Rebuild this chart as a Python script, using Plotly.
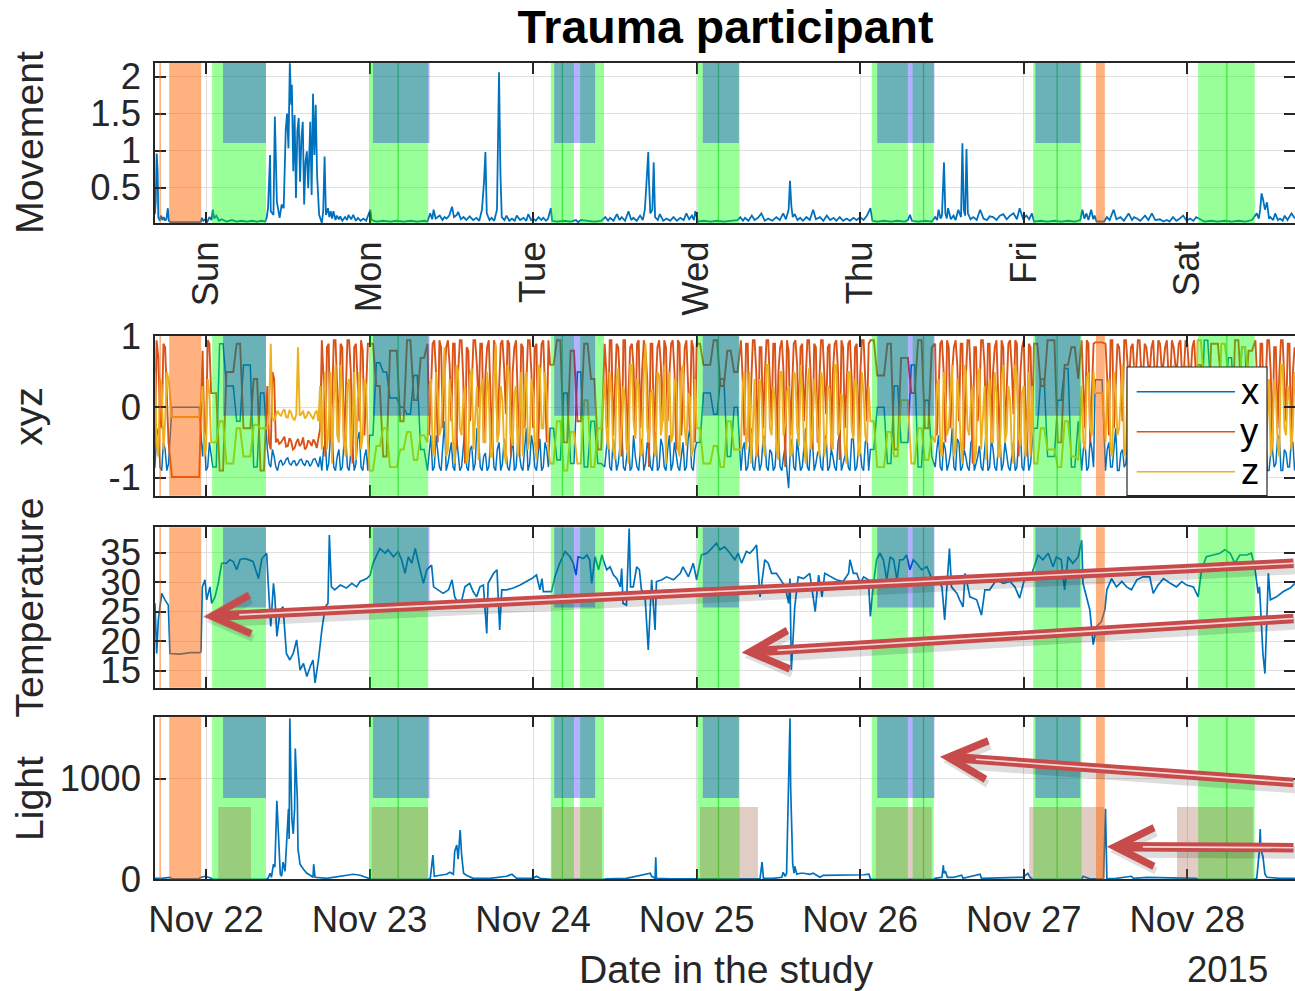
import pandas as pd
import plotly.graph_objects as go

START = pd.Timestamp("2015-11-21 16:00")


def at(h):
    return START + pd.Timedelta(hours=h)


# ---------------- data (hours since 2015-11-21 16:00) ----------------
movement = [
    (0.5, 0.14), (0.62, 0.3), (0.76, 0.96), (0.9, 0.72), (1.0, 0.1), (1.2, 0.05), (1.4, 0.12), (1.6, 0.06),
    (1.8, 0.1), (2.0, 0.05), (2.2, 0.08), (2.4, 0.22), (2.55, 0.05),
    (2.8, 0.03), (5.0, 0.03), (7.2, 0.03), (7.4, 0.09), (7.6, 0.05), (7.9, 0.07), (8.2, 0.04), (8.5, 0.1), (8.8, 0.06),
    (9.0, 0.2), (9.2, 0.08), (9.5, 0.12), (9.9, 0.05), (10.3, 0.07), (11.0, 0.04), (11.8, 0.06), (12.5, 0.04),
    (13.2, 0.05), (14.0, 0.04), (14.8, 0.05), (15.5, 0.04), (16.2, 0.05), (16.7, 0.04),
    (16.9, 0.09), (17.1, 0.22), (17.4, 0.94), (17.5, 0.18), (17.9, 0.13), (18.1, 1.46), (18.4, 0.31), (18.8, 0.09),
    (19.1, 0.27), (19.4, 0.22), (19.7, 1.28), (19.9, 1.5), (20.1, 1.03), (20.3, 2.18), (20.5, 1.62), (20.6, 1.89),
    (20.8, 0.72), (21.0, 1.48), (21.2, 0.36), (21.4, 1.26), (21.6, 1.44), (21.8, 0.58), (22.0, 1.17), (22.2, 1.39),
    (22.4, 0.27), (22.6, 0.85), (22.8, 0.99), (23.0, 0.49), (23.3, 1.39), (23.5, 0.4), (23.7, 1.77), (23.9, 0.94),
    (24.1, 1.62), (24.3, 0.67), (24.6, 0.13), (25.0, 0.02), (25.2, 0.18), (25.4, 0.92), (25.6, 0.13), (25.9, 0.22),
    (26.1, 0.1), (26.3, 0.18), (26.5, 0.08), (26.7, 0.18), (27.0, 0.06), (27.2, 0.12), (27.5, 0.07), (27.7, 0.11),
    (28.0, 0.05), (28.4, 0.1), (28.7, 0.06), (28.9, 0.13), (29.3, 0.07), (29.6, 0.13), (30.0, 0.05), (30.3, 0.09),
    (30.7, 0.05), (31.1, 0.08), (31.5, 0.05), (31.8, 0.13),
    (32.1, 0.2), (32.3, 0.06), (33.0, 0.04), (34.0, 0.05), (35.0, 0.04), (36.0, 0.05), (37.0, 0.04), (38.0, 0.05),
    (39.0, 0.04), (40.0, 0.05), (40.5, 0.04),
    (40.9, 0.15), (41.2, 0.07), (41.4, 0.2), (41.7, 0.08), (42.0, 0.1), (42.3, 0.12), (42.7, 0.06), (43.0, 0.1),
    (43.3, 0.08), (43.7, 0.12), (44.1, 0.24), (44.4, 0.1), (44.8, 0.13), (45.0, 0.17), (45.4, 0.07), (45.8, 0.1),
    (46.2, 0.06), (46.7, 0.11), (47.2, 0.06), (47.7, 0.09), (48.1, 0.05), (48.5, 0.2), (48.8, 0.58), (49.0, 0.98),
    (49.2, 0.15), (49.6, 0.06), (49.9, 0.09), (50.3, 0.05), (50.7, 0.2), (51.0, 2.06), (51.2, 0.71), (51.4, 0.1),
    (51.8, 0.06), (52.1, 0.12), (52.5, 0.05), (52.9, 0.08), (53.3, 0.05), (53.6, 0.12), (54.1, 0.06), (54.6, 0.09),
    (55.0, 0.05), (55.3, 0.14), (55.7, 0.06), (56.0, 0.08), (56.4, 0.05), (56.8, 0.1), (57.2, 0.06), (57.5, 0.09),
    (57.9, 0.05), (58.2, 0.08), (58.6, 0.22),
    (58.8, 0.05), (59.5, 0.04), (60.5, 0.05), (61.5, 0.04), (62.3, 0.06), (62.6, 0.03), (63.0, 0.06), (64.0, 0.05),
    (65.0, 0.04), (66.0, 0.05),
    (66.6, 0.1), (67.0, 0.05), (67.3, 0.09), (67.8, 0.05), (68.3, 0.14), (68.7, 0.06), (69.0, 0.1), (69.5, 0.05),
    (70.0, 0.18), (70.4, 0.06), (70.7, 0.09), (71.2, 0.05), (71.7, 0.12), (72.1, 0.06), (72.4, 0.2), (72.6, 0.5),
    (72.8, 0.85), (72.9, 0.98), (73.0, 0.6), (73.2, 0.15), (73.5, 0.2), (73.7, 0.84), (73.9, 0.1), (74.3, 0.06),
    (74.6, 0.14), (75.1, 0.05), (75.6, 0.08), (76.1, 0.05), (76.6, 0.1), (77.1, 0.05), (77.6, 0.09), (78.1, 0.06),
    (78.5, 0.15), (78.9, 0.07), (79.3, 0.12), (79.6, 0.06), (79.8, 0.18),
    (80.2, 0.04), (81.0, 0.05), (82.0, 0.04), (83.0, 0.05), (84.0, 0.04), (85.0, 0.05), (86.0, 0.06),
    (86.4, 0.1), (86.8, 0.05), (87.1, 0.09), (87.6, 0.05), (88.1, 0.12), (88.5, 0.06), (89.0, 0.09), (89.5, 0.15),
    (90.0, 0.05), (90.5, 0.08), (91.1, 0.05), (91.7, 0.1), (92.2, 0.06), (92.7, 0.15), (93.1, 0.07), (93.5, 0.2),
    (93.7, 0.59), (93.9, 0.25), (94.1, 0.1), (94.4, 0.14), (94.8, 0.06), (95.2, 0.09), (95.6, 0.05), (96.1, 0.1),
    (96.6, 0.06), (97.1, 0.2), (97.5, 0.07), (98.1, 0.1), (98.6, 0.05), (99.1, 0.12), (99.6, 0.06), (100.1, 0.09),
    (100.5, 0.05), (101.0, 0.1), (101.5, 0.05), (102.0, 0.08), (102.5, 0.05), (103.0, 0.09), (103.5, 0.06),
    (104.0, 0.1), (104.5, 0.06), (105.0, 0.12), (105.5, 0.22),
    (105.8, 0.05), (106.5, 0.04), (107.5, 0.05), (108.5, 0.04), (109.5, 0.05), (110.5, 0.04), (111.0, 0.06),
    (111.3, 0.13), (111.6, 0.05), (112.5, 0.04), (113.5, 0.05), (114.5, 0.04),
    (115.0, 0.1), (115.3, 0.06), (115.5, 0.2), (115.8, 0.08), (116.0, 0.12), (116.3, 0.84), (116.5, 0.15),
    (116.7, 0.08), (116.9, 0.22), (117.3, 0.07), (117.7, 0.12), (118.0, 0.06), (118.4, 0.2), (118.8, 0.1),
    (119.0, 1.1), (119.2, 0.2), (119.4, 0.12), (119.6, 1.02), (119.8, 0.15), (120.2, 0.07), (120.6, 0.1),
    (121.1, 0.06), (121.6, 0.2), (122.1, 0.08), (122.6, 0.06), (123.0, 0.11), (123.5, 0.1), (124.0, 0.06),
    (124.5, 0.12), (125.0, 0.14), (125.5, 0.07), (126.0, 0.12), (126.5, 0.15), (127.0, 0.07), (127.4, 0.22),
    (127.9, 0.08), (128.4, 0.12), (128.8, 0.07), (129.2, 0.15),
    (129.5, 0.04), (130.5, 0.05), (131.5, 0.04), (132.5, 0.05), (133.5, 0.04), (134.5, 0.05), (135.5, 0.04),
    (136.3, 0.06),
    (136.6, 0.2), (136.9, 0.08), (137.2, 0.15), (137.5, 0.06), (137.9, 0.2), (138.2, 0.07), (138.4, 0.12),
    (138.7, 0.04), (139.8, 0.04),
    (140.2, 0.1), (140.6, 0.06), (140.9, 0.12), (141.2, 0.2), (141.6, 0.07), (142.2, 0.1), (142.7, 0.05),
    (143.0, 0.09), (143.4, 0.15), (143.9, 0.06), (144.2, 0.1), (144.6, 0.08), (145.1, 0.05), (145.8, 0.12),
    (146.3, 0.06), (146.8, 0.15), (147.3, 0.06), (148.0, 0.07), (148.5, 0.04), (149.0, 0.06), (149.4, 0.04),
    (149.9, 0.1), (150.4, 0.05), (150.9, 0.08), (151.4, 0.12), (151.9, 0.05), (152.4, 0.08), (152.9, 0.05),
    (153.3, 0.1),
    (153.7, 0.08), (154.5, 0.04), (155.5, 0.05), (156.5, 0.04), (157.5, 0.05), (158.5, 0.04), (159.5, 0.05),
    (160.5, 0.04), (161.5, 0.06),
    (162.2, 0.15), (162.5, 0.08), (162.7, 0.2), (162.9, 0.42), (163.1, 0.35), (163.4, 0.2), (163.7, 0.3),
    (164.0, 0.08), (164.2, 0.1), (164.6, 0.06), (164.9, 0.15), (165.3, 0.06), (165.6, 0.08), (166.0, 0.05),
    (166.3, 0.12), (166.7, 0.06), (167.0, 0.1), (167.3, 0.15), (167.8, 0.08),
]

temperature = [
    (0.51, 26.4), (0.76, 17.9), (1.0, 23.6), (1.5, 28.1), (1.98, 27.0), (2.47, 26.1), (2.71, 17.9), (4.18, 17.8),
    (5.65, 18.05), (7.12, 18.05), (7.26, 18.2), (7.46, 29.2), (7.85, 30.4), (8.1, 27.0), (8.58, 29.2), (8.83, 26.4),
    (9.32, 27.5), (9.8, 29.8), (10.3, 33.2), (11.0, 33.2), (11.5, 33.8), (12.0, 33.5), (12.5, 32.1), (13.0, 33.8),
    (13.5, 34.0), (14.0, 33.9), (14.9, 33.5), (15.7, 30.6), (16.2, 34.0), (16.7, 34.6), (16.9, 34.9), (17.1, 30.4),
    (17.5, 22.5), (17.9, 29.8), (18.1, 27.5), (18.4, 20.8), (18.9, 25.3), (19.3, 25.8), (19.8, 17.9), (20.3, 16.8),
    (20.8, 17.9), (21.3, 20.2), (21.8, 15.1), (22.3, 16.2), (22.8, 14.0), (23.3, 15.7), (23.7, 16.8), (24.0, 12.9),
    (24.5, 16.8), (25.0, 21.9), (25.5, 25.8), (25.9, 26.4), (26.1, 38.0), (26.4, 29.2), (26.9, 28.7), (27.7, 29.5),
    (28.6, 29.0), (29.4, 29.8), (30.1, 29.2), (30.6, 30.1), (31.6, 30.6), (32.1, 31.2), (32.5, 33.2), (33.5, 35.7),
    (34.3, 34.9), (34.7, 35.5), (35.5, 34.3), (36.2, 35.2), (36.7, 33.8), (37.2, 31.5), (37.7, 34.3), (38.2, 33.2),
    (38.7, 35.7), (39.2, 33.2), (39.9, 29.8), (40.4, 32.1), (41.1, 32.9), (41.4, 29.2), (42.1, 28.7), (42.8, 28.1),
    (43.6, 28.7), (44.1, 30.4), (44.5, 27.5), (45.3, 25.8), (46.0, 29.2), (46.7, 29.8), (47.2, 28.4), (47.7, 27.5),
    (48.2, 29.2), (48.7, 29.5), (49.2, 21.3), (49.4, 29.8), (50.2, 31.5), (50.7, 32.1), (51.1, 21.9), (51.4, 28.7),
    (52.1, 28.7), (53.1, 29.0), (54.1, 29.5), (55.1, 30.1), (55.8, 30.6), (56.5, 31.2), (57.0, 28.7), (57.3, 30.6),
    (57.5, 28.4), (58.0, 28.4), (58.7, 28.4), (59.2, 30.9), (59.9, 33.2), (60.7, 35.2), (61.4, 34.3), (61.9, 33.2),
    (62.3, 31.2), (62.6, 34.3), (63.4, 34.0), (63.9, 34.6), (64.3, 33.8), (64.6, 29.8), (65.1, 34.3), (65.6, 32.1),
    (66.1, 34.6), (66.3, 33.8), (66.8, 32.1), (67.3, 32.6), (67.8, 31.2), (68.3, 30.6), (68.8, 29.2), (69.0, 32.3),
    (69.2, 26.4), (69.7, 26.1), (70.1, 39.1), (70.3, 29.2), (70.7, 29.2), (71.2, 32.6), (71.6, 32.1), (71.9, 28.7),
    (72.4, 28.1), (72.9, 18.5), (73.4, 30.4), (73.9, 21.9), (74.1, 30.1), (74.9, 30.4), (75.6, 30.9), (76.6, 30.4),
    (77.6, 31.5), (78.0, 32.6), (78.8, 30.9), (79.5, 33.2), (80.0, 30.4), (80.7, 34.6), (81.5, 34.9), (82.2, 35.7),
    (82.9, 36.6), (83.4, 35.5), (84.1, 36.0), (84.9, 34.9), (85.6, 33.8), (86.1, 34.9), (86.6, 33.2), (87.3, 35.2),
    (87.8, 34.9), (88.3, 35.5), (88.8, 36.3), (89.3, 27.5), (90.0, 33.8), (90.5, 33.2), (91.0, 31.5), (91.7, 31.5),
    (92.5, 30.1), (93.0, 29.2), (93.5, 26.4), (93.7, 30.6), (93.9, 15.1), (94.4, 25.8), (94.9, 30.9), (95.7, 30.6),
    (96.6, 31.5), (97.4, 25.0), (97.9, 31.2), (98.4, 27.5), (98.8, 31.5), (99.6, 31.0), (100.5, 30.4),
    (101.5, 30.1), (102.3, 31.5), (102.5, 33.8), (103.0, 31.5), (103.5, 31.5), (104.0, 29.8), (104.5, 30.9),
    (105.2, 30.4), (105.5, 24.2), (105.9, 29.2), (106.4, 33.8), (106.9, 34.9), (107.4, 33.8), (107.9, 30.4),
    (108.4, 34.3), (108.9, 33.8), (109.4, 30.4), (109.8, 33.8), (110.3, 33.8), (110.8, 34.6), (111.3, 32.1),
    (111.8, 33.8), (112.3, 33.2), (113.0, 32.1), (113.8, 32.6), (114.5, 30.6), (115.2, 30.6), (116.0, 29.2),
    (116.4, 23.6), (116.7, 29.2), (117.1, 35.7), (117.4, 29.2), (118.2, 28.1), (118.6, 27.0), (119.1, 25.8),
    (119.4, 31.5), (120.1, 27.5), (121.1, 27.0), (121.8, 24.4), (122.3, 28.7), (123.0, 28.7), (124.0, 30.4),
    (125.0, 29.8), (126.0, 30.1), (126.7, 29.2), (127.4, 27.3), (128.2, 30.9), (128.9, 30.4), (129.4, 32.1),
    (130.1, 34.6), (130.8, 33.8), (131.6, 34.9), (132.3, 32.6), (132.8, 34.3), (133.5, 33.8), (134.0, 28.7),
    (134.5, 34.3), (135.2, 33.2), (136.0, 34.3), (136.5, 37.1), (136.7, 29.8), (137.2, 27.5), (137.7, 25.3),
    (138.2, 19.4), (138.7, 22.5), (139.4, 23.3), (139.9, 25.3), (140.2, 28.7), (140.9, 30.6), (141.6, 29.2),
    (142.4, 30.1), (143.1, 29.2), (143.8, 28.7), (144.6, 30.4), (145.5, 30.9), (146.5, 30.9), (147.0, 28.1),
    (147.7, 29.5), (148.5, 30.6), (149.5, 29.8), (150.4, 29.2), (151.2, 30.1), (151.9, 29.5), (152.9, 29.2),
    (153.6, 27.5), (154.1, 32.1), (154.8, 34.3), (155.8, 34.6), (156.8, 34.9), (157.5, 35.5), (158.3, 34.9),
    (159.0, 33.2), (159.7, 34.6), (160.7, 34.6), (161.4, 34.9), (161.9, 32.6), (162.4, 28.1), (162.6, 29.2),
    (162.9, 23.6), (163.1, 17.9), (163.4, 14.5), (163.7, 26.4), (163.9, 31.5), (164.2, 27.0), (165.1, 27.5),
    (166.1, 28.4), (167.1, 29.0), (167.8, 29.8),
]

light = [
    (0.5, 10), (1.5, 10), (2.7, 20), (3.0, 5), (5.0, 5), (7.0, 5), (7.1, 15), (7.85, 30), (8.6, 15), (8.8, 5),
    (9.0, 0), (16.8, 0),
    (17.1, 10), (17.4, 60), (17.6, 20), (17.9, 150), (18.1, 120), (18.4, 780), (18.5, 650), (18.7, 300),
    (18.9, 50), (19.1, 30), (19.3, 170), (19.6, 80), (19.8, 300), (20.1, 700), (20.2, 400), (20.3, 1600),
    (20.5, 900), (20.6, 600), (20.8, 450), (21.0, 700), (21.1, 1300), (21.2, 1100), (21.4, 800), (21.5, 300),
    (21.8, 150), (22.3, 100), (22.8, 60), (23.3, 40), (23.7, 20), (23.8, 150), (24.0, 20), (25.7, 10),
    (28.6, 40), (29.6, 50), (30.6, 40), (31.6, 20), (32.1, 5),
    (32.3, 0), (40.6, 0),
    (40.9, 5), (41.3, 240), (41.5, 30), (42.3, 40), (43.3, 50), (43.8, 70), (44.3, 50), (44.5, 280), (44.8, 340),
    (45.0, 200), (45.3, 490), (45.5, 250), (45.8, 60), (46.2, 40), (47.2, 10), (49.7, 10), (52.1, 30),
    (52.9, 50), (53.6, 10), (56.0, 10), (56.5, 30), (57.0, 10), (58.5, 5),
    (58.7, 0), (66.4, 0),
    (66.8, 5), (69.7, 10), (72.9, 50), (73.2, 60), (73.4, 30), (73.9, 10), (74.0, 220), (74.1, 10), (76.1, 5),
    (78.5, 5), (79.7, 5),
    (80.1, 0), (86.3, 0),
    (86.6, 5), (89.3, 5), (89.6, 170), (89.8, 10), (91.2, 10), (92.5, 20), (92.7, 70), (93.0, 30), (93.2, 60),
    (93.5, 1200), (93.7, 1600), (93.8, 900), (93.9, 700), (94.1, 150), (94.3, 60), (94.4, 130), (94.7, 50),
    (95.2, 60), (95.7, 60), (96.6, 50), (97.1, 60), (98.1, 20), (98.6, 40), (99.6, 40), (100.5, 45),
    (102.0, 40), (103.5, 40), (104.5, 45), (105.3, 50), (105.5, 5),
    (105.7, 0), (114.8, 0),
    (115.0, 10), (116.0, 20), (116.2, 140), (116.3, 60), (116.5, 80), (116.8, 20), (117.7, 20), (118.9, 40),
    (119.1, 10), (121.6, 50), (121.8, 10), (125.0, 15), (127.9, 20), (128.6, 60), (128.9, 20),
    (129.3, 0), (136.5, 0),
    (136.7, 30), (137.7, 5), (139.7, 5), (140.0, 700), (140.2, 5), (141.6, 10), (143.8, 30), (144.1, 10),
    (146.1, 20), (148.5, 15), (150.9, 10), (153.3, 10),
    (153.6, 0), (161.9, 0),
    (162.2, 10), (162.6, 300), (162.7, 500), (162.8, 300), (163.0, 250), (163.1, 230), (163.4, 50),
    (163.7, 20), (165.6, 10), (167.8, 10),
]

# accelerometer x, y, z sampled every 0.5 h from the start time
XYZ_STEP_H = 0.5
xyz_x = [
    -0.5, -0.85, -0.3, -0.9, -0.6, -0.8,
    0.0, 0.0, 0.0, 0.0, 0.0, 0.0, 0.0, 0.0, 0.0,
    -0.7, -0.9, -0.5,
    -0.85, -0.85, 0.9, 0.9, 0.3, 0.3, 0.3, -0.2, -0.2, 0.6, 0.6, 0.6, -0.85, -0.85, 0.2, 0.2,
    -0.6, -0.85, -0.7, -0.9, -0.75, -0.8, -0.72, -0.82, -0.76, -0.8, -0.74, -0.83, -0.77, -0.8, -0.73, -0.85,
    -0.9, -0.5, -0.8, -0.3, -0.9, -0.6, -0.85, -0.4, -0.9, -0.55, -0.8, -0.35, -0.9, -0.6,
    -0.4, -0.4, 0.63, 0.63, 0.5, 0.5, 0.13, 0.13, 0.13, 0.0, 0.0, -0.1, -0.1, 0.45, 0.45, -0.6, -0.6,
    -0.9, -0.4, -0.85, -0.6, -0.9, -0.2, -0.8, -0.5, -0.9, -0.7, -0.85, -0.3, -0.9, -0.55, -0.8, -0.45, -0.9,
    -0.65, -0.85, -0.35, -0.9, -0.5, -0.8, -0.6, -0.9, -0.4, -0.85, -0.7, -0.9, -0.3, -0.8, -0.55, -0.9, -0.45,
    -0.85, -0.6,
    -0.3, -0.3, -0.75, -0.75, 0.2, 0.2, -0.8, -0.8, 0.5, 0.5, -0.85, -0.85, -0.2, -0.2, -0.8, -0.8,
    -0.85, -0.4, -0.9, -0.6, -0.8, -0.3, -0.9, -0.5, -0.85, -0.7, -0.9, -0.45, -0.8, -0.6, -0.9, -0.35, -0.85,
    -0.55, -0.9, -0.4, -0.8, -0.65, -0.9, -0.5, -0.85, -0.3, -0.9,
    -0.5, -0.5, 0.2, 0.2, 0.2, -0.1, -0.1, 0.4, 0.4, -0.7, -0.7, 0.0, 0.0,
    -0.9, -0.5, -0.85, -0.3, -0.9, -0.6, -0.8, -0.4, -0.9, -0.65, -0.85, -0.35, -0.9, -0.55, -1.15, -0.45, -0.9,
    -0.7, -0.85, -0.3, -0.9, -0.5, -0.8, -0.6, -0.9, -0.4, -0.85, -0.7, -0.9, -0.35, -0.8, -0.55, -0.9, -0.45,
    -0.85, -0.6, -0.9, -0.4,
    -0.6, -0.6, 0.0, 0.0, 0.0, -0.8, -0.8, 0.3, 0.3, -0.5, -0.5, -0.5, 0.6, 0.6, -0.85, -0.85, 0.1, 0.1, -0.7,
    -0.85, -0.4, -0.9, -0.6, -0.8, -0.3, -0.9, -0.5, -0.85, -0.7, -0.9, -0.45, -0.8, -0.55, -0.9, -0.35, -0.85,
    -0.6, -0.9, -0.4, -0.8, -0.65, -0.9, -0.5, -0.85, -0.3, -0.9, -0.55, -0.8,
    -0.3, -0.3, 0.4, 0.4, -0.7, -0.7, -0.7, 0.1, 0.1, 0.55, 0.55, -0.85, -0.85, -0.2,
    -0.9, -0.5, -0.85, -0.6,
    0.39, 0.39, 0.39,
    -0.9, -0.5, -0.85, -0.3, -0.9, -0.6, -0.8, -0.4, -0.9, -0.65, -0.85, -0.35, -0.9, -0.55, -0.8, -0.45, -0.9,
    -0.7, -0.85, -0.3, -0.9, -0.5, -0.8, -0.6, -0.9, -0.4, -0.85,
    -0.5, -0.5, 0.95, 0.95, 0.2, 0.2, 0.2, -0.6, -0.6, 0.7, 0.7, -0.3, -0.3, 0.85, 0.85, -0.8, -0.8,
    -0.9, -0.5, -0.85, -0.3, -0.9, -0.6, -0.8, -0.4, -0.9, -0.65, -0.85, -0.5,
]
xyz_y = [
    0.9, -0.6, 0.7, -0.3, 0.85, -0.5,
    -0.99, -0.99, -0.99, -0.99, -0.99, -0.99, -0.99, -0.99, -0.99,
    0.8, -0.4, 0.9,
    0.2, 0.2, -0.9, -0.9, 0.5, 0.5, 0.5, 0.9, 0.9, -0.3, -0.3, -0.3, 0.4, 0.4, -0.9, -0.9,
    0.3, -0.6, 0.4, -0.45, -0.5, -0.42, -0.55, -0.48, -0.58, -0.45, -0.52, -0.6, -0.47, -0.55, -0.5, -0.4,
    0.95, -0.7, 0.9, 0.1, 0.95, -0.4, 0.85, 0.3, 0.95, -0.8, 0.9, -0.2, 0.8, 0.2,
    0.9, 0.9, 0.3, 0.3, -0.7, -0.7, 0.8, 0.8, 0.8, -0.2, -0.2, 0.95, 0.95, 0.1, 0.1, 0.7, 0.7,
    0.9, 0.2, 0.95, -0.5, 0.85, 0.4, 0.95, -0.2, 0.9, 0.5, 0.95, -0.8, 0.8, 0.3, 0.95, 0.0, 0.9, 0.45, 0.95,
    -0.6, 0.85, 0.35, 0.95, -0.1, 0.9, 0.5, 0.95, -0.7, 0.85, 0.25, 0.95, -0.3, 0.9, 0.4, 0.95, -0.5,
    0.6, 0.6, 0.95, 0.95, -0.5, -0.5, 0.8, 0.8, -0.2, -0.2, 0.9, 0.9, 0.4, 0.4, -0.6, -0.6,
    0.9, -0.3, 0.95, 0.4, 0.85, -0.7, 0.95, 0.2, 0.9, -0.4, 0.95, 0.5, 0.8, -0.85, 0.9, 0.3, 0.95, -0.2, 0.85,
    0.45, 0.95, -0.6, 0.9, 0.1, 0.95, -0.35, 0.85,
    0.9, 0.9, 0.6, 0.6, 0.6, 0.95, 0.95, 0.3, 0.3, 0.8, 0.8, 0.5, 0.5,
    0.95, -0.4, 0.9, 0.3, 0.95, -0.7, 0.85, 0.45, 0.95, -0.2, 0.9, 0.5, 0.95, -0.85, 0.8, 0.2, 0.95, -0.3, 0.9,
    0.4, 0.95, -0.6, 0.85, 0.35, 0.95, -0.1, 0.9, 0.5, 0.95, -0.75, 0.85, 0.3, 0.95, -0.4, 0.9, 0.45, 0.95, -0.2,
    0.95, 0.95, 0.45, 0.45, 0.45, 0.9, 0.9, -0.6, -0.6, 0.7, 0.7, 0.7, 0.2, 0.2, 0.95, 0.95, -0.3, -0.3, 0.85,
    0.9, 0.3, 0.95, -0.5, 0.85, 0.5, 0.95, -0.2, 0.9, 0.4, 0.95, -0.8, 0.85, 0.2, 0.95, -0.4, 0.9, 0.5, 0.95,
    -0.6, 0.85, 0.35, 0.95, -0.1, 0.9, 0.45, 0.95, -0.7, 0.85,
    0.9, 0.9, 0.3, 0.3, 0.95, 0.95, 0.95, -0.5, -0.5, 0.6, 0.6, 0.85, 0.85, 0.4,
    0.95, -0.3, 0.9, 0.4,
    0.92, 0.92, 0.92,
    0.9, -0.4, 0.95, 0.3, 0.85, -0.2, 0.95, 0.45, 0.9, 0.55, 0.95, 0.4, 0.85, 0.5, 0.95, 0.45, 0.9, 0.6, 0.95,
    0.4, 0.85, 0.55, 0.95, 0.5, 0.9, 0.45, 0.95,
    0.6, 0.6, -0.5, -0.5, 0.9, 0.9, 0.9, 0.3, 0.3, -0.7, -0.7, 0.95, 0.95, 0.1, 0.1, 0.8, 0.8,
    0.95, -0.4, 0.9, 0.3, 0.95, -0.6, 0.85, 0.45, 0.95, -0.2, 0.9, 0.5,
]
xyz_z = [
    -0.4, 0.5, -0.7, 0.3, -0.2, 0.4,
    -0.14, -0.14, -0.14, -0.14, -0.14, -0.14, -0.14, -0.14, -0.14,
    0.3, -0.6, 0.2,
    -0.5, -0.5, -0.2, -0.2, -0.8, -0.8, -0.8, -0.3, -0.3, -0.7, -0.7, -0.7, -0.25, -0.25, -0.3, -0.3,
    -0.3, 0.9, -0.2, -0.05, -0.12, -0.03, -0.15, -0.08, -0.18, 0.85, -0.1, -0.16, -0.06, -0.14, -0.08, -0.2,
    -0.6, 0.5, -0.3, -0.8, 0.6, -0.5, 0.2, -0.7, 0.4, -0.2, -0.75, 0.5, -0.4, 0.3,
    -0.9, -0.9, -0.55, -0.55, -0.3, -0.3, -0.85, -0.85, -0.85, -0.6, -0.6, -0.35, -0.35, -0.75, -0.75, -0.4, -0.4,
    -0.5, 0.4, -0.7, 0.2, -0.3, 0.85, -0.6, 0.1, -0.8, 0.5, -0.4, 0.3, -0.65, 0.55, -0.2, -0.75, 0.4, -0.5, 0.2,
    -0.7, 0.9, -0.35, 0.1, -0.8, 0.45, -0.55, 0.3, -0.25, -0.7, 0.5, -0.45, 0.2, -0.75, 0.55, -0.3, 0.15,
    -0.8, -0.8, -0.2, -0.2, -0.9, -0.9, -0.35, -0.35, -0.8, -0.8, 0.1, 0.1, -0.85, -0.85, -0.3, -0.3,
    0.4, -0.6, 0.2, -0.75, 0.55, -0.3, 0.1, -0.8, 0.6, -0.45, 0.3, -0.65, 0.9, -0.5, 0.25, -0.7, 0.45, -0.2,
    -0.8, 0.5, -0.4, 0.35, -0.7, 0.6, -0.55, 0.15, -0.6,
    -0.3, -0.3, -0.8, -0.8, -0.8, -0.55, -0.55, -0.85, -0.85, -0.2, -0.2, -0.6, -0.6,
    -0.6, 0.5, -0.3, -0.8, 0.4, -0.5, 0.2, -0.7, 0.6, -0.4, 0.1, -0.75, 0.5, -0.25, 0.3, -0.65, 0.45, -0.55, 0.2,
    -0.8, 0.55, -0.35, 0.15, -0.7, 0.4, -0.5, 0.25, -0.6, 0.6, -0.3, 0.05, -0.8, 0.5, -0.45, 0.3, -0.65, 0.2, -0.5,
    -0.2, -0.2, -0.85, -0.85, -0.85, -0.35, -0.35, -0.7, -0.7, 0.1, 0.1, 0.1, -0.8, -0.8, -0.3, -0.3, -0.75, -0.75,
    -0.4,
    -0.5, 0.4, -0.7, 0.2, -0.3, 0.6, -0.6, 0.1, -0.8, 0.5, -0.4, 0.3, -0.65, 0.55, -0.2, -0.75, 0.4, -0.5, 0.2,
    -0.7, 0.6, -0.35, 0.1, -0.8, 0.45, -0.55, 0.3, -0.25, -0.7,
    -0.8, -0.8, -0.3, -0.3, -0.6, -0.6, -0.6, -0.85, -0.85, -0.2, -0.2, -0.7, -0.7, -0.75,
    0.3, -0.6, 0.5, -0.4,
    0.2, 0.2, 0.2,
    -0.5, 0.4, -0.7, 0.2, -0.3, 0.6, -0.6, 0.1, -0.8, 0.5, -0.4, 0.3, -0.65, 0.55, -0.2, -0.75, 0.4, -0.5, 0.2,
    -0.7, 0.6, -0.35, 0.1, -0.8, 0.45, -0.55, 0.3,
    0.95, 0.95, 0.3, 0.3, -0.6, -0.6, -0.6, 0.9, 0.9, 0.5, 0.5, -0.2, -0.2, 0.85, 0.85, 0.4, 0.4,
    -0.6, 0.5, -0.3, -0.8, 0.4, -0.5, 0.2, -0.7, 0.6, -0.4, 0.1, -0.3,
]

# extra readings taken 15 min after each half-hour sample while awake (None: no extra reading)
_ = None
xyz_x_mid = (
    [-0.9, -0.4, -0.85, -0.5, -0.9, _] + [_] * 9 + [-0.4, -0.85, -0.7] + [_] * 16
    + [-0.8, -0.6, -0.85, -0.78, -0.82, -0.74, -0.8, -0.77, -0.83, -0.75, -0.8, -0.76, -0.84, -0.74, -0.8, -0.7]
    + [-0.6, -0.9, -0.45, -0.85, -0.7, -0.9, -0.5, -0.85, -0.65, -0.9, -0.45, -0.85, -0.7, -0.9] + [_] * 17
    + [-0.6, -0.9, -0.4, -0.85, -0.5, -0.9, -0.65, -0.85, -0.4, -0.9, -0.55, -0.85, -0.6, -0.9, -0.3, -0.85,
       -0.7, -0.9, -0.5, -0.85, -0.6, -0.9, -0.45, -0.85, -0.7, -0.9, -0.5, -0.85, -0.6, -0.9, -0.4, -0.85,
       -0.65, -0.9, -0.5, -0.85] + [_] * 16
    + [-0.6, -0.85, -0.45, -0.9, -0.55, -0.85, -0.7, -0.9, -0.4, -0.85, -0.6, -0.9, -0.5, -0.85, -0.65, -0.9,
       -0.45, -0.85, -0.6, -0.9, -0.5, -0.85, -0.7, -0.9, -0.45, -0.85, -0.6] + [_] * 13
    + [-0.6, -0.9, -0.5, -0.85, -0.65, -0.9, -0.45, -0.85, -0.6, -0.9, -0.5, -0.85, -0.7, -0.9, -0.6, -0.85,
       -0.45, -0.9, -0.6, -0.85, -0.5, -0.9, -0.65, -0.85, -0.45, -0.9, -0.6, -0.85, -0.5, -0.9, -0.7, -0.85,
       -0.45, -0.9, -0.6, -0.85, -0.5, -0.9] + [_] * 19
    + [-0.6, -0.85, -0.5, -0.9, -0.65, -0.85, -0.45, -0.9, -0.6, -0.85, -0.5, -0.9, -0.7, -0.85, -0.55, -0.9,
       -0.45, -0.85, -0.6, -0.9, -0.5, -0.85, -0.65, -0.9, -0.45, -0.85, -0.6, -0.9, -0.5] + [_] * 14
    + [-0.6, -0.9, -0.45, -0.85] + [_] * 3
    + [-0.6, -0.85, -0.5, -0.9, -0.65, -0.85, -0.45, -0.9, -0.6, -0.85, -0.5, -0.9, -0.7, -0.85, -0.55, -0.9,
       -0.45, -0.85, -0.6, -0.9, -0.5, -0.85, -0.65, -0.9, -0.45, -0.85, -0.6] + [_] * 17
    + [-0.6, -0.85, -0.5, -0.9, -0.65, -0.85, -0.45, -0.9, -0.6, -0.85, -0.5, -0.9]
)
xyz_y_mid = (
    [0.3, 0.95, -0.2, 0.9, 0.1, _] + [_] * 9 + [-0.3, 0.95, 0.2] + [_] * 16
    + [-0.5, 0.5, -0.5, -0.52, -0.46, -0.56, -0.44, -0.6, -0.5, -0.55, -0.43, -0.57, -0.5, -0.46, -0.58, -0.3]
    + [0.4, 0.85, -0.5, 0.95, 0.3, 0.9, -0.6, 0.95, 0.5, 0.85, 0.2, 0.95, -0.4, 0.9] + [_] * 17
    + [-0.4, 0.9, 0.5, 0.95, -0.3, 0.85, 0.6, 0.9, -0.6, 0.95, 0.4, 0.85, -0.2, 0.95, 0.6, 0.9, -0.5, 0.85,
       0.3, 0.95, -0.4, 0.9, 0.55, 0.95, -0.7, 0.85, 0.2, 0.9, -0.3, 0.95, 0.5, 0.85, -0.6, 0.9, 0.35, 0.95]
    + [_] * 16
    + [0.5, 0.95, -0.4, 0.9, 0.3, 0.95, -0.6, 0.85, 0.55, 0.9, -0.3, 0.95, 0.4, 0.9, -0.5, 0.85, 0.6, 0.95,
       -0.2, 0.9, 0.5, 0.95, -0.4, 0.85, 0.3, 0.95, -0.5] + [_] * 13
    + [0.4, 0.9, -0.5, 0.95, 0.5, 0.85, -0.3, 0.95, 0.3, 0.9, -0.6, 0.85, 0.5, 0.95, -0.4, 0.9, 0.6, 0.85,
       -0.2, 0.95, 0.4, 0.9, -0.5, 0.95, 0.3, 0.85, -0.6, 0.9, 0.5, 0.95, -0.3, 0.9, 0.4, 0.85, -0.5, 0.95,
       0.3, 0.9] + [_] * 19
    + [-0.4, 0.9, 0.5, 0.95, -0.3, 0.85, 0.6, 0.9, -0.6, 0.95, 0.4, 0.85, -0.2, 0.95, 0.6, 0.9, -0.5, 0.85,
       0.3, 0.95, -0.4, 0.9, 0.55, 0.95, -0.7, 0.85, 0.2, 0.9, -0.3] + [_] * 14
    + [0.3, 0.95, -0.5, 0.9] + [_] * 3
    + [0.4, 0.95, -0.3, 0.9, 0.5, 0.95, 0.6, 0.85, 0.45, 0.95, 0.5, 0.9, 0.6, 0.85, 0.4, 0.95, 0.55, 0.85,
       0.45, 0.95, 0.6, 0.9, 0.4, 0.95, 0.55, 0.85, 0.5] + [_] * 17
    + [0.4, 0.9, -0.5, 0.95, 0.5, 0.85, -0.3, 0.95, 0.3, 0.9, -0.6, 0.85]
)
xyz_z_mid = (
    [0.2, -0.5, 0.4, -0.6, 0.5, _] + [_] * 9 + [-0.7, 0.4, -0.5] + [_] * 16
    + [-0.1, -0.15, -0.12, -0.1, -0.06, -0.14, -0.04, -0.16, -0.1, -0.12, -0.05, -0.13, -0.09, -0.17, -0.05, 0.3]
    + [0.2, -0.6, 0.5, 0.1, -0.4, 0.6, -0.5, 0.3, -0.7, 0.5, 0.1, -0.6, 0.4, -0.5] + [_] * 17
    + [0.3, -0.6, 0.5, -0.4, 0.2, -0.7, 0.4, -0.5, 0.6, -0.3, 0.1, -0.8, 0.45, -0.6, 0.3, 0.2, -0.5, 0.5,
       -0.7, 0.4, -0.5, 0.3, -0.6, 0.6, -0.4, 0.2, -0.7, 0.5, 0.3, -0.6, 0.4, -0.5, 0.6, -0.3, 0.5, -0.6]
    + [_] * 16
    + [-0.3, 0.5, -0.6, 0.4, -0.7, 0.3, -0.5, 0.6, -0.2, 0.4, -0.7, 0.5, -0.3, 0.2, -0.6, 0.5, -0.4, 0.6,
       0.1, -0.5, 0.4, -0.6, 0.5, -0.3, 0.2, -0.7, 0.4] + [_] * 13
    + [0.3, -0.6, 0.5, -0.3, -0.7, 0.4, -0.5, 0.6, -0.3, 0.3, -0.6, 0.5, -0.4, 0.2, -0.7, 0.5, -0.3, 0.6,
       -0.5, 0.3, -0.6, 0.4, -0.3, 0.5, -0.7, 0.3, -0.5, 0.6, -0.4, 0.2, -0.6, 0.5, -0.3, 0.4, -0.7, 0.5,
       -0.4, 0.3] + [_] * 19
    + [0.3, -0.6, 0.5, -0.4, 0.2, -0.7, 0.4, -0.5, 0.6, -0.3, 0.1, -0.8, 0.45, -0.6, 0.3, 0.2, -0.5, 0.5,
       -0.7, 0.4, -0.5, 0.3, -0.6, 0.6, -0.4, 0.2, -0.7, 0.5, 0.3] + [_] * 14
    + [-0.5, 0.4, -0.3, 0.5] + [_] * 3
    + [0.3, -0.6, 0.5, -0.4, 0.2, -0.7, 0.4, -0.5, 0.6, -0.3, 0.1, -0.8, 0.45, -0.6, 0.3, 0.2, -0.5, 0.5,
       -0.7, 0.4, -0.5, 0.3, -0.6, 0.6, -0.4, 0.2, -0.7] + [_] * 17
    + [0.3, -0.6, 0.5, -0.3, -0.7, 0.4, -0.5, 0.6, -0.3, 0.3, -0.6, 0.5]
)
assert len(xyz_x) == len(xyz_y) == len(xyz_z) == len(xyz_x_mid) == len(xyz_y_mid) == len(xyz_z_mid)

# event intervals (hours since start)
offwrist = [(1.15, 1.4), (2.6, 7.3), (138.6, 139.9)]
sleep = [(8.9, 16.8), (32.0, 40.6), (58.6, 62.0), (62.9, 66.4), (80.1, 86.3),
         (105.7, 111.0), (111.7, 114.8), (129.4, 136.5), (153.6, 161.9)]
sleep_marks = [36.2, 60.3, 83.2, 113.3, 132.9, 157.8]
bed_upper = [(10.5, 16.8), (32.5, 40.8), (59.1, 65.1), (80.9, 86.2), (106.5, 114.9), (129.7, 136.3)]
dark_lower = [(9.8, 14.6), (32.3, 40.6), (58.7, 66.1), (80.5, 89.0), (106.3, 114.5), (128.8, 139.8), (150.5, 161.7)]

day_ticks = ["2015-11-%02d" % d for d in range(22, 29)]
day_names = ["Sun", "Mon", "Tue", "Wed", "Thu", "Fri", "Sat"]
date_labels = ["Nov 22", "Nov 23", "Nov 24", "Nov 25", "Nov 26", "Nov 27", "Nov 28"]

# ---------------- figure ----------------
W, H = 1295, 991
FONT = "Liberation Sans, Arial, sans-serif"
AX = "#262626"
BLUE, RED, YEL = "#0072BD", "#D95319", "#EDB120"
TICK = 36.5
LAB = 39.2

x_range = [at(0.514), at(167.81)]
ydoms = [
    [1 - 223 / H, 1 - 63 / H],
    [1 - 495.7 / H, 1 - 336 / H],
    [1 - 687.7 / H, 1 - 527.3 / H],
    [1 - 879.3 / H, 1 - 716.7 / H],
]


def xyz_series(base, mid):
    pts = [(i * XYZ_STEP_H, v) for i, v in enumerate(base)]
    pts += [(i * XYZ_STEP_H + XYZ_STEP_H / 2, v) for i, v in enumerate(mid) if v is not None]
    pts.sort()
    return [at(h) for h, _v in pts], [v for _h, v in pts]


fig = go.Figure()
fig.add_trace(go.Scatter(x=[at(h) for h, _v in movement], y=[v for _h, v in movement], mode="lines",
                         line=dict(color=BLUE, width=1.8), xaxis="x", yaxis="y", name="Movement"))
for base, mid, col, nm, wd in [(xyz_x, xyz_x_mid, BLUE, "x", 1.5), (xyz_y, xyz_y_mid, RED, "y", 1.9),
                               (xyz_z, xyz_z_mid, YEL, "z", 1.9)]:
    tx, vy = xyz_series(base, mid)
    fig.add_trace(go.Scatter(x=tx, y=vy, mode="lines", line=dict(color=col, width=wd),
                             xaxis="x2", yaxis="y2", name=nm))
fig.add_trace(go.Scatter(x=[at(h) for h, _v in temperature], y=[v for _h, v in temperature], mode="lines",
                         line=dict(color=BLUE, width=1.7), xaxis="x3", yaxis="y3", name="Temperature"))
fig.add_trace(go.Scatter(x=[at(h) for h, _v in light], y=[v for _h, v in light], mode="lines",
                         line=dict(color=BLUE, width=1.7), xaxis="x4", yaxis="y4", name="Light"))

shapes = []
refs = [("x", "y"), ("x2", "y2"), ("x3", "y3"), ("x4", "y4")]
for k, (xr, yr) in enumerate(refs):
    yd = yr + " domain"
    for a, b in sleep:
        shapes.append(dict(type="rect", xref=xr, yref=yd, x0=at(a), x1=at(b), y0=0, y1=1,
                           fillcolor="rgba(0,255,0,0.4)", line=dict(width=0), layer="above"))
    for m in sleep_marks:
        shapes.append(dict(type="line", xref=xr, yref=yd, x0=at(m), x1=at(m), y0=0, y1=1,
                           line=dict(color="rgba(40,220,40,0.75)", width=1.3), layer="above"))
    for a, b in bed_upper:
        shapes.append(dict(type="rect", xref=xr, yref=yd, x0=at(a), x1=at(b), y0=0.5, y1=1,
                           fillcolor="rgba(0,0,255,0.3)", line=dict(width=0), layer="above"))
    if k == 3:
        for a, b in dark_lower:
            shapes.append(dict(type="rect", xref=xr, yref=yd, x0=at(a), x1=at(b), y0=0, y1=0.445,
                               fillcolor="rgba(155,88,55,0.3)", line=dict(width=0), layer="above"))
    for a, b in offwrist:
        shapes.append(dict(type="rect", xref=xr, yref=yd, x0=at(a), x1=at(b), y0=0, y1=1,
                           fillcolor="rgba(255,100,0,0.5)", line=dict(width=0), layer="above"))

# legend box for the xyz panel
lg_x0, lg_x1, lg_y0, lg_y1 = 1127 / W, 1267 / W, 1 - 495.7 / H, 1 - 367 / H
shapes.append(dict(type="rect", xref="paper", yref="paper", x0=lg_x0, x1=lg_x1, y0=lg_y0, y1=lg_y1,
                   fillcolor="white", line=dict(color=AX, width=1.2), layer="above"))
annotations = []
for (nm, col), py in zip([("x", BLUE), ("y", RED), ("z", YEL)], [391.7, 431.7, 471.7]):
    yp = 1 - py / H
    shapes.append(dict(type="line", xref="paper", yref="paper", x0=1136.7 / W, x1=1235 / W, y0=yp, y1=yp,
                       line=dict(color=col, width=1.5), layer="above"))
    annotations.append(dict(text=nm, xref="paper", yref="paper", x=1249.5 / W, y=yp, xanchor="center",
                            yanchor="middle", showarrow=False, font=dict(size=TICK, color="#000", family=FONT)))

# y labels
for txt, dom in zip(["Movement", "xyz", "Temperature", "Light"], ydoms):
    annotations.append(dict(text=txt, xref="paper", yref="paper", x=29 / W, y=(dom[0] + dom[1]) / 2,
                            textangle=-90, xanchor="center", yanchor="middle", showarrow=False,
                            font=dict(size=LAB, color=AX, family=FONT)))
annotations.append(dict(text="Date in the study", xref="paper", yref="paper", x=726 / W, y=1 - 969 / H,
                        xanchor="center", yanchor="middle", showarrow=False,
                        font=dict(size=LAB, color=AX, family=FONT)))
annotations.append(dict(text="2015", xref="paper", yref="paper", x=1227 / W, y=1 - 969 / H,
                        xanchor="center", yanchor="middle", showarrow=False,
                        font=dict(size=TICK, color=AX, family=FONT)))

# red call-out arrows (head point on data axes, tail offset in pixels)
callouts = [
    ("x3", "y3", 7.6, 24.15, 1197, -53.4),
    ("x3", "y3", 86.6, 18.05, 658, -34.2),
    ("x4", "y4", 115.7, 1219, 460, 25.9),
    ("x4", "y4", 140.2, 324, 300, 1),
]
for xr, yr, h, v, axp, ayp in callouts:
    base = dict(x=at(h), y=v, xref=xr, yref=yr, ax=axp, ay=ayp, axref="pixel", ayref="pixel",
                text="", showarrow=True)
    annotations.append(dict(base, xshift=3, yshift=-5, arrowcolor="rgba(0,0,0,0.13)", arrowwidth=12,
                            arrowhead=5, arrowsize=0.62))
    annotations.append(dict(base, arrowcolor="#C84B4B", arrowwidth=9.5, arrowhead=5, arrowsize=0.8))
    annotations.append(dict(base, arrowcolor="rgba(255,232,232,0.9)", arrowwidth=1.6, arrowhead=0,
                            standoff=36))

axis_common = dict(showline=True, linecolor=AX, linewidth=1.5, mirror="ticks", ticks="inside", ticklen=11,
                   tickwidth=1.5, tickcolor=AX, showgrid=True, gridcolor="#DFDFDF", gridwidth=1,
                   zeroline=False, automargin=False, fixedrange=True,
                   tickfont=dict(size=TICK, color=AX, family=FONT))

layout = dict(
    width=W, height=H, autosize=False,
    margin=dict(l=0, r=0, t=0, b=0, autoexpand=False),
    paper_bgcolor="white", plot_bgcolor="white", showlegend=False,
    font=dict(family=FONT, color=AX),
    title=dict(text="<b>Trauma participant</b>", x=725.5 / W, y=1 - 27 / H, xanchor="center",
               yanchor="middle", font=dict(size=46.5, color="#000", family=FONT)),
    shapes=shapes, annotations=annotations,
)
y_specs = [
    dict(range=[0.02, 2.185], tickvals=[0.5, 1, 1.5, 2], ticktext=["0.5", "1", "1.5", "2"]),
    dict(range=[-1.256, 1.01], tickvals=[-1, 0, 1], ticktext=["-1", "0", "1"]),
    dict(range=[12.1, 39.3], tickvals=[15, 20, 25, 30, 35], ticktext=["15", "20", "25", "30", "35"]),
    dict(range=[0, 1616], tickvals=[0, 1000], ticktext=["0", "1000"]),
]
for k in range(4):
    xn = "xaxis" if k == 0 else "xaxis%d" % (k + 1)
    yn = "yaxis" if k == 0 else "yaxis%d" % (k + 1)
    xa = dict(axis_common, type="date", range=x_range, domain=[155 / W, 1.0],
              anchor="y" if k == 0 else "y%d" % (k + 1), tickvals=day_ticks)
    if k == 0:
        xa.update(ticktext=day_names, tickangle=-90, ticklabelstandoff=2)
    elif k == 3:
        xa.update(ticktext=date_labels, tickangle=0, ticklabelstandoff=7)
    else:
        xa.update(showticklabels=False)
    ya = dict(axis_common, domain=ydoms[k], anchor="x" if k == 0 else "x%d" % (k + 1),
              ticklabelstandoff=5, **y_specs[k])
    layout[xn] = xa
    layout[yn] = ya

fig.update_layout(**layout)
fig.write_html("out.html")
